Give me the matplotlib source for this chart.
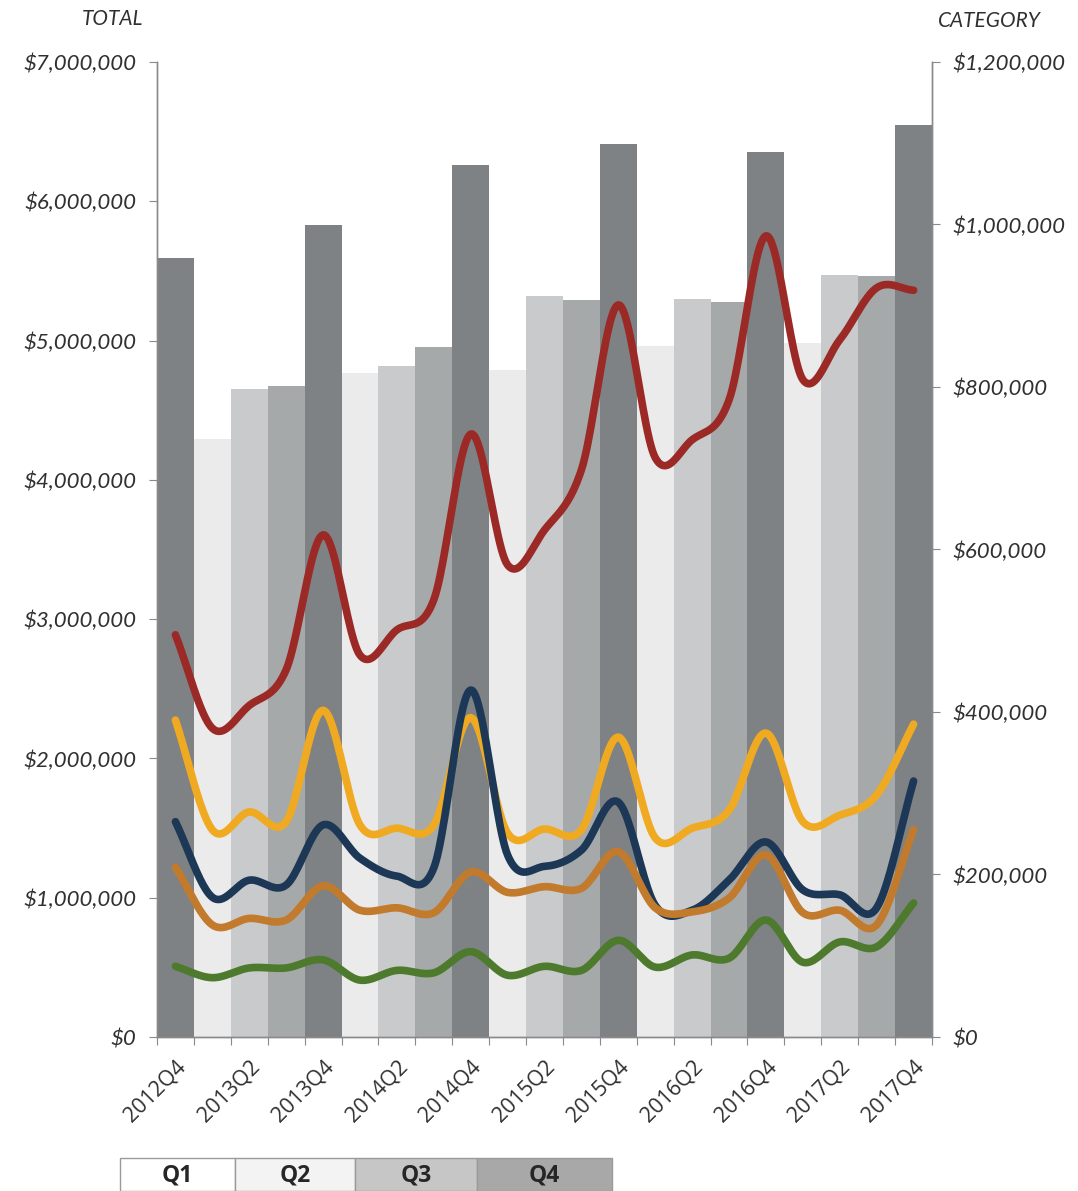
import numpy as np
import matplotlib
matplotlib.use("Agg")
import matplotlib.pyplot as plt
from matplotlib.patches import Rectangle
from matplotlib.ticker import FuncFormatter, MultipleLocator

# ---- data -------------------------------------------------------------
quarters = [
    "2012Q4", "2013Q1", "2013Q2", "2013Q3", "2013Q4",
    "2014Q1", "2014Q2", "2014Q3", "2014Q4",
    "2015Q1", "2015Q2", "2015Q3", "2015Q4",
    "2016Q1", "2016Q2", "2016Q3", "2016Q4",
    "2017Q1", "2017Q2", "2017Q3", "2017Q4",
]
total = [
    5590000, 4290000, 4650000, 4670000, 5830000,
    4770000, 4820000, 4950000, 6260000,
    4790000, 5320000, 5290000, 6410000,
    4960000, 5300000, 5280000, 6350000,
    4980000, 5470000, 5460000, 6550000,
]
cat_red = [495000, 380000, 408000, 452000, 618000, 470000, 501000, 538000, 742000,
           581000, 624000, 698000, 901000, 713000, 735000, 784000, 986000,
           809000, 858000, 922000, 919000]
cat_yellow = [390000, 255000, 277000, 265000, 402000, 261000, 257000, 261000, 393000,
              251000, 256000, 255000, 369000, 245000, 257000, 279000, 374000,
              265000, 273000, 298000, 385000]
cat_navy = [265000, 172000, 193000, 187000, 261000, 220000, 198000, 208000, 427000,
            224000, 210000, 230000, 289000, 162000, 156000, 193000, 240000,
            181000, 175000, 159000, 315000]
cat_orange = [209000, 138000, 146000, 144000, 186000, 156000, 159000, 153000, 203000,
              178000, 185000, 183000, 228000, 159000, 154000, 171000, 224000,
              153000, 156000, 138000, 255000]
cat_green = [87000, 73000, 85000, 85000, 95000, 70000, 82000, 79000, 105000,
             76000, 87000, 82000, 119000, 86000, 101000, 97000, 144000,
             92000, 117000, 111000, 165000]
legend_labels = ["Q1", "Q2", "Q3", "Q4"]

# ---- styling ----------------------------------------------------------
quarter_colors = {"Q1": "#ebebeb", "Q2": "#c9cacb", "Q3": "#a6a9aa", "Q4": "#7e8284"}
legend_colors = ["#ffffff", "#f3f3f3", "#c6c6c6", "#a8a8a8"]
line_styles = [
    (cat_yellow, "#f0aa22"),
    (cat_red, "#9b2a27"),
    (cat_navy, "#1c3856"),
    (cat_orange, "#c27a2c"),
    (cat_green, "#4e7a2e"),
]
text_color = "#303030"
axis_color = "#8a8a8a"
italic_font = ["Lato", "DejaVu Sans"]


def smooth(xs, ys, samples=24):
    """Catmull-Rom curve through the points (the 'smoothed line' look)."""
    xs = np.asarray(xs, float)
    ys = np.asarray(ys, float)
    px = np.concatenate([[2 * xs[0] - xs[1]], xs, [2 * xs[-1] - xs[-2]]])
    py = np.concatenate([[2 * ys[0] - ys[1]], ys, [2 * ys[-1] - ys[-2]]])
    out_x, out_y = [], []
    t = np.linspace(0, 1, samples, endpoint=False)
    for i in range(1, len(px) - 2):
        for arr, out in ((px, out_x), (py, out_y)):
            p0, p1, p2, p3 = arr[i - 1], arr[i], arr[i + 1], arr[i + 2]
            out.extend(0.5 * (2 * p1 + (-p0 + p2) * t
                              + (2 * p0 - 5 * p1 + 4 * p2 - p3) * t ** 2
                              + (-p0 + 3 * p1 - 3 * p2 + p3) * t ** 3))
    out_x.append(xs[-1])
    out_y.append(ys[-1])
    return np.array(out_x), np.array(out_y)


fig = plt.figure(figsize=(10.78, 11.91), dpi=100)
ax = fig.add_axes([0.1456, 0.1293, 0.7190, 0.8187])
ax2 = ax.twinx()

x = np.arange(len(quarters))
bar_colors = [quarter_colors[q[-2:]] for q in quarters]
ax.bar(x, total, width=1.0, color=bar_colors, edgecolor="none", zorder=1)

ax.set_xlim(-0.5, len(quarters) - 0.5)
ax.set_ylim(0, 7000000)
ax2.set_ylim(0, 1200000)
ax.yaxis.set_major_locator(MultipleLocator(1000000))
ax2.yaxis.set_major_locator(MultipleLocator(200000))
money = FuncFormatter(lambda v, _: "${:,.0f}".format(v))
ax.yaxis.set_major_formatter(money)
ax2.yaxis.set_major_formatter(money)

for values, color in line_styles:
    sx, sy = smooth(x, values)
    ax2.plot(sx, sy, color=color, lw=5.5, solid_capstyle="round", zorder=3)

# category ticks sit between bars, labels on every other bar
ax.set_xticks(np.arange(-0.5, len(quarters), 1.0))
ax.set_xticklabels([])
ax.set_xticks(x[::2], minor=True)
ax.set_xticklabels(quarters[::2], minor=True, rotation=45, ha="right",
                   rotation_mode="anchor", fontsize=15.5, color=text_color,
                   family=["Open Sans", "DejaVu Sans"])
ax.tick_params(axis="x", which="major", length=6, color=axis_color, direction="out")
ax.tick_params(axis="x", which="minor", length=0, pad=14)

for a in (ax, ax2):
    a.spines["top"].set_visible(False)
    for side in ("left", "right", "bottom"):
        a.spines[side].set_color(axis_color)
        a.spines[side].set_linewidth(1.0)
ax.tick_params(axis="y", length=6, color=axis_color, pad=9)
ax2.tick_params(axis="y", length=6, color=axis_color, pad=9)
for lab in ax.get_yticklabels() + ax2.get_yticklabels():
    lab.set_fontstyle("italic")
    lab.set_fontsize(16)
    lab.set_color(text_color)
    lab.set_family(italic_font)

fig.text(0.104, 0.984, "TOTAL", ha="center", va="center", fontsize=15,
         style="italic", color=text_color, family=italic_font)
fig.text(0.918, 0.982, "CATEGORY", ha="center", va="center", fontsize=15,
         style="italic", color=text_color, family=italic_font)

# quarter key at the bottom
edges_px = [120, 235, 355, 477, 612]
y0 = 1 - 1191 / 1191
y1 = 1 - 1158 / 1191
for i, lab in enumerate(legend_labels):
    x0 = edges_px[i] / 1078
    w = (edges_px[i + 1] - edges_px[i]) / 1078
    fig.add_artist(Rectangle((x0, y0), w, y1 - y0, transform=fig.transFigure,
                             facecolor=legend_colors[i], edgecolor="#9a9a9a",
                             linewidth=1.0))
    fig.text(x0 + w / 2, (y0 + y1) / 2 - 0.001, lab, ha="center", va="center",
             fontsize=16.5, fontweight="bold", color="#262626",
             family=["Open Sans", "DejaVu Sans"])

fig.savefig("out.png", dpi=100, facecolor="white")
